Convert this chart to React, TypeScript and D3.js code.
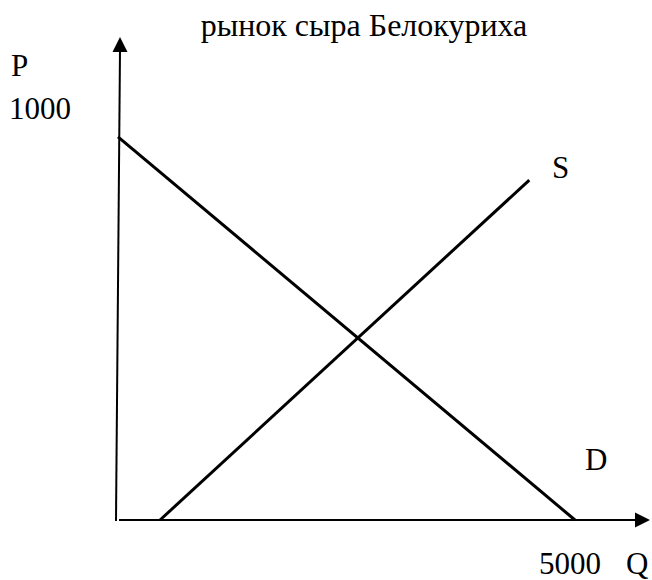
import React, { useEffect, useRef } from 'react';
import * as d3 from 'd3';

// market data
const demandQ = [0, 5000];
const demandP = [930, 0];
const supplyQ = [460, 4500];
const supplyP = [0, 825];
const maxQ = 5000;
const maxP = 1000;
const title = 'рынок сыра Белокуриха';

const W = 652;
const H = 580;
const FONT = '"Liberation Serif", "Times New Roman", serif';

export default function App() {
  const svgRef = useRef<SVGSVGElement>(null);

  useEffect(() => {
    const svg = d3.select(svgRef.current);
    svg.selectAll('*').remove();

    const x = d3.scaleLinear().domain([0, maxQ]).range([118, 575]);
    const y = d3.scaleLinear().domain([0, maxP]).range([520, 108]);

    const line = d3.line<[number, number]>()
      .x(d => x(d[0]))
      .y(d => y(d[1]));

    // axes (the vertical one leans a bit, as in the drawing)
    svg.append('line')
      .attr('x1', x(0) - 2).attr('y1', y(0) + 1)
      .attr('x2', x(0) + 2).attr('y2', 50)
      .attr('stroke', '#000').attr('stroke-width', 2);
    svg.append('path')
      .attr('d', `M${x(0) + 2},37 L${x(0) - 5.5},52 L${x(0) + 9.5},52 Z`)
      .attr('fill', '#000');

    svg.append('line')
      .attr('x1', x(0) + 1).attr('y1', y(0))
      .attr('x2', 637).attr('y2', y(0))
      .attr('stroke', '#000').attr('stroke-width', 2);
    svg.append('path')
      .attr('d', `M650,${y(0)} L635,${y(0) - 7.5} L635,${y(0) + 7.5} Z`)
      .attr('fill', '#000');

    // demand and supply
    svg.append('path')
      .datum(d3.zip(demandQ, demandP) as [number, number][])
      .attr('d', line)
      .attr('fill', 'none').attr('stroke', '#000').attr('stroke-width', 3);
    svg.append('path')
      .datum(d3.zip(supplyQ, supplyP) as [number, number][])
      .attr('d', line)
      .attr('fill', 'none').attr('stroke', '#000').attr('stroke-width', 3);

    const txt = (s: string, tx: number, ty: number, size: number, anchor = 'start') =>
      svg.append('text')
        .attr('x', tx).attr('y', ty)
        .attr('font-family', FONT).attr('font-size', size)
        .attr('text-anchor', anchor)
        .text(s);

    txt(title, 364, 36, 32, 'middle');
    txt('P', 11, 76, 31);
    txt(String(maxP), 9, 119, 31);
    txt('S', 552, 178, 31);
    txt('D', 585, 470, 31);
    txt(String(maxQ), 539, 574, 31);
    txt('Q', 626, 574, 31);
  }, []);

  return (
    <div style={{ position: 'absolute', left: 0, top: 0 }}>
      <svg ref={svgRef} width={W} height={H} style={{ display: 'block', background: '#fff' }} />
    </div>
  );
}
